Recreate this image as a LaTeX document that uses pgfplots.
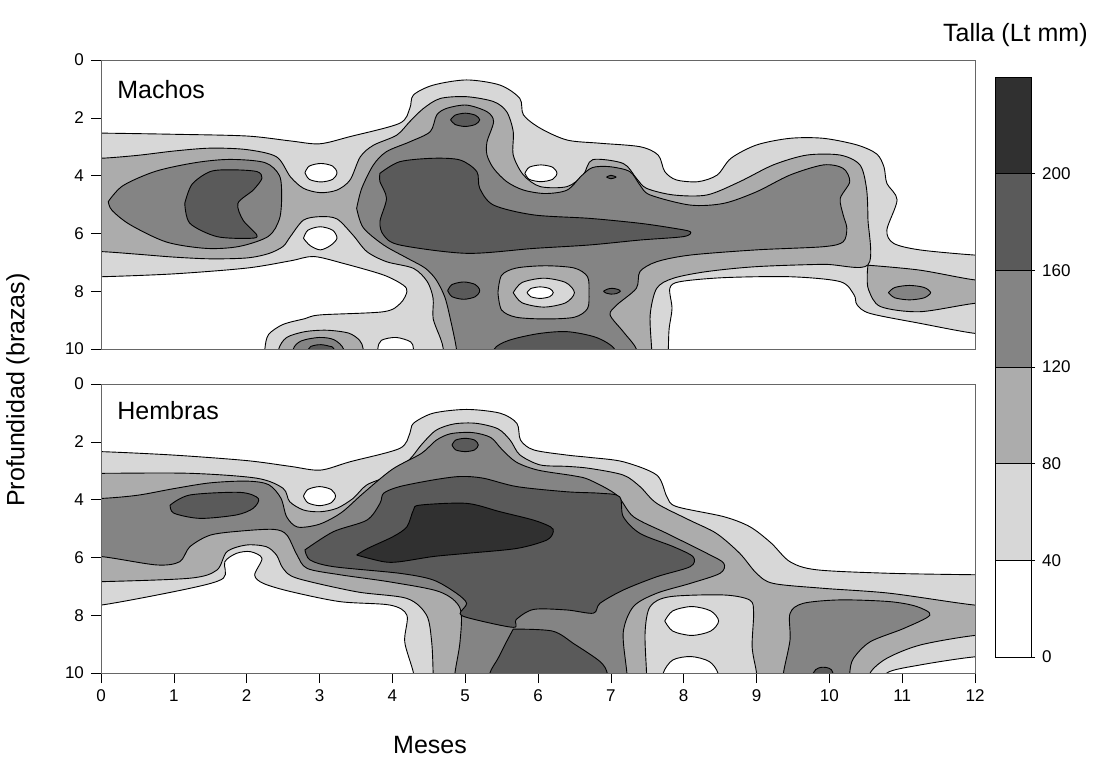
\documentclass[border=0pt]{standalone}
\usepackage{fontspec}
\setmainfont{Liberation Sans}
\usepackage{pgfplots}
\pgfplotsset{compat=1.18}
\newcommand\tickfont{\fontsize{8.5}{10}\selectfont}
\newcommand\labfont{\fontsize{12.5}{15}\selectfont}
\definecolor{lA}{RGB}{255,255,255}
\definecolor{lB}{RGB}{215,215,215}
\definecolor{lC}{RGB}{172,172,172}
\definecolor{lD}{RGB}{132,132,132}
\definecolor{lE}{RGB}{90,90,90}
\definecolor{lF}{RGB}{48,48,48}
\tikzset{lev/.style={draw=black, line width=0.45pt, tension=0.5}}
\pgfplotsset{
  colormap={talla}{color=(lA) color=(lB) color=(lC) color=(lD) color=(lE) color=(lF)},
  /pgf/number format/assume math mode=true,
  panel/.style={
    scale only axis, width=437pt, height=144.5pt,
    xmin=0, xmax=12, ymin=0, ymax=10,
    y dir=reverse,
    axis on top,
    ytick={0,2,...,10},
    xtick pos=left, ytick pos=left,
    tick align=outside,
    major tick length=5pt,
    tick label style={font=\tickfont},
    axis line style={black!60},
    tick style={black},
  },
}
\begin{document}
\begin{tikzpicture}
\useasboundingbox (0,0) rectangle (547.5pt,-379pt);
% ================= Machos =================
\begin{axis}[panel,
  at={(50.5pt,-174.5pt)}, anchor=south west,
  xtick=\empty,
  colormap name=talla, colormap access=piecewise constant,
  point meta min=0, point meta max=240,
  colorbar,
  colorbar style={
    at={(parent axis.north east)}, anchor=north west, xshift=1.5pt, yshift=-8.5pt,
    scale only axis, width=18pt, height=290pt,
    y dir=normal,
    ytick={0,40,...,200},
    ytick pos=right,
    yticklabel style={font=\tickfont},
    major tick length=2pt, tick align=outside,
    ymajorgrids, major grid style={black, line width=0.4pt},
    axis line style={black},
  },
]
% level 40-80
\addplot[lev, smooth, fill=lB] coordinates {(-0.5,2.53) (0,2.53) (1,2.57) (2,2.63) (2.6,2.8) (3,2.9) (3.42,2.65) (4.1,2.19) (4.24,1.67) (4.29,1.21) (4.56,0.87) (5.02,0.69) (5.48,0.87) (5.75,1.33) (5.8,1.9) (6.03,2.36) (6.4,2.77) (6.85,2.88) (7.4,3.0) (7.65,3.29) (7.74,3.86) (7.9,4.15) (8.2,4.21) (8.46,3.98) (8.65,3.4) (9.0,2.94) (9.46,2.71) (9.92,2.71) (10.38,2.94) (10.65,3.25) (10.75,3.7) (10.79,4.27) (10.93,4.84) (10.79,5.88) (10.88,6.34) (11.24,6.57) (12,6.75) (12.5,6.78) (12.5,9.5) (12,9.46) (11.24,9.11) (10.56,8.77) (10.38,8.47) (10.34,8.13) (10.15,7.67) (9.47,7.5) (8.56,7.53) (7.95,7.67) (7.81,7.9) (7.84,8.6) (7.8,9.3) (7.79,10) (7.79,10.6) (4.29,10.6) (4.29,10) (4.25,9.75) (4.05,9.6) (3.85,9.7) (3.8,10) (3.8,10.6) (2.25,10.6) (2.25,10) (2.3,9.5) (2.5,9.15) (2.8,8.95) (3.01,8.82) (3.88,8.71) (4.11,8.42) (4.2,8.02) (4.15,7.79) (3.88,7.44) (3.33,7.04) (2.92,6.8) (2.6,6.95) (2.0,7.2) (1.0,7.4) (0,7.5) (-0.5,7.5)};
% level 80-120
\addplot[lev, smooth, fill=lC] coordinates {(-0.5,3.4) (0,3.4) (0.5,3.3) (1,3.15) (1.5,3.05) (2,3.1) (2.41,3.35) (2.6,4.04) (2.78,4.44) (3.01,4.59) (3.24,4.5) (3.42,4.15) (3.56,3.35) (3.74,2.95) (4.06,2.6) (4.24,2.13) (4.43,1.67) (4.66,1.33) (5.02,1.27) (5.39,1.44) (5.57,1.79) (5.66,2.48) (5.66,3.29) (5.8,3.98) (6.03,4.38) (6.4,4.38) (6.62,3.98) (6.75,3.45) (7.17,3.58) (7.35,4.09) (7.49,4.44) (7.86,4.67) (8.32,4.67) (8.77,4.21) (9.23,3.63) (9.69,3.29) (10.15,3.29) (10.42,3.63) (10.51,4.44) (10.53,5.5) (10.53,7.09) (9.92,7.07) (9.0,7.15) (8.32,7.32) (7.86,7.55) (7.63,7.9) (7.54,8.82) (7.56,10) (7.56,10.6) (4.7,10.6) (4.7,10) (4.66,9.63) (4.56,8.94) (4.56,8.25) (4.48,7.67) (4.29,7.21) (3.92,6.98) (3.65,6.63) (3.46,6.06) (3.24,5.5) (3.01,5.42) (2.78,5.54) (2.6,6.11) (2.5,6.45) (2.3,6.7) (2,6.85) (1.5,6.88) (1,6.82) (0.5,6.72) (0,6.63) (-0.5,6.63)};
\addplot[lev, smooth, fill=lC] coordinates {(2.44,10.6) (2.44,10) (2.55,9.6) (2.8,9.4) (3.1,9.35) (3.4,9.45) (3.55,9.7) (3.6,10) (3.6,10.6)};
\addplot[lev, smooth, fill=lC] coordinates {(10.53,7.1) (11.24,7.27) (12,7.61) (12.5,7.65) (12.5,8.4) (12,8.42) (11.24,8.71) (10.7,8.53) (10.54,7.96) (10.52,7.5) (10.53,7.1)};
% level 120-160
\addplot[lev, smooth, fill=lD] coordinates {(0.1,4.9) (0.3,4.35) (0.75,3.85) (1.3,3.55) (1.77,3.44) (2.25,3.55) (2.45,4.0) (2.48,4.73) (2.45,5.5) (2.3,6.1) (1.9,6.45) (1.45,6.52) (0.9,6.3) (0.4,5.7) (0.15,5.2) (0.1,4.9)};
\addplot[lev, smooth, fill=lD] coordinates {(3.51,5.13) (3.58,4.44) (3.74,3.63) (3.92,3.17) (4.24,2.83) (4.52,2.48) (4.61,1.9) (4.75,1.67) (5.02,1.56) (5.3,1.79) (5.39,2.13) (5.3,2.83) (5.3,3.29) (5.39,3.75) (5.57,4.21) (5.8,4.5) (6.1,4.62) (6.4,4.5) (6.6,4.0) (6.75,3.72) (6.98,3.69) (7.26,3.86) (7.4,4.33) (7.54,4.67) (8.09,5.02) (8.55,4.96) (9.0,4.56) (9.46,3.98) (9.92,3.63) (10.19,3.75) (10.28,4.21) (10.15,4.79) (10.19,5.36) (10.24,5.82) (10.19,6.29) (9.92,6.46) (9.0,6.57) (8.09,6.75) (7.63,6.98) (7.4,7.32) (7.35,7.9) (7.08,8.48) (6.99,8.82) (7.17,9.4) (7.35,10) (7.35,10.6) (4.88,10.6) (4.88,10) (4.8,9.0) (4.72,8.2) (4.6,7.6) (4.45,7.2) (4.2,6.85) (3.88,6.4) (3.6,5.8) (3.51,5.13)};
\addplot[lev, smooth, fill=lD] coordinates {(2.64,10.6) (2.64,10) (2.75,9.72) (3.0,9.6) (3.2,9.68) (3.33,10) (3.33,10.6)};
\addplot[lev, smooth, fill=lD] coordinates {(10.81,8.05) (10.9,7.87) (11.1,7.8) (11.3,7.87) (11.39,8.05) (11.3,8.23) (11.1,8.3) (10.9,8.23) (10.81,8.05)};
% level 160-200
\addplot[lev, smooth, fill=lE] coordinates {(1.15,4.96) (1.25,4.3) (1.5,3.86) (1.8,3.8) (2.14,3.86) (2.21,4.09) (2.09,4.5) (1.88,4.96) (1.95,5.54) (2.14,6.06) (2.05,6.17) (1.59,6.11) (1.22,5.65) (1.15,4.96)};
\addplot[lev, smooth, fill=lE] coordinates {(3.83,3.92) (4.1,3.52) (4.56,3.4) (4.93,3.46) (5.16,3.86) (5.2,4.44) (5.39,5.02) (5.94,5.36) (6.71,5.48) (7.4,5.65) (7.86,5.82) (8.09,5.94) (8.0,6.11) (7.4,6.23) (6.71,6.4) (5.94,6.52) (5.02,6.69) (4.1,6.4) (3.88,6.06) (3.83,5.59) (3.92,4.79) (3.83,4.21) (3.83,3.92)};
\addplot[lev, smooth, fill=lE] coordinates {(4.8,2.07) (4.86,1.91) (5.0,1.84) (5.14,1.91) (5.2,2.07) (5.14,2.23) (5.0,2.3) (4.86,2.23) (4.8,2.07)};
\addplot[lev, smooth, fill=lE] coordinates {(4.76,7.98) (4.82,7.77) (4.98,7.68) (5.14,7.77) (5.2,7.98) (5.14,8.19) (4.98,8.28) (4.82,8.19) (4.76,7.98)};
\addplot[lev, smooth, fill=lE] coordinates {(5.4,10.6) (5.4,10) (5.6,9.7) (6.0,9.47) (6.4,9.4) (6.8,9.6) (7.05,10) (7.05,10.6)};
\addplot[lev, smooth, fill=lE] coordinates {(2.85,10.6) (2.85,10) (2.92,9.88) (3.02,9.85) (3.13,9.9) (3.2,10) (3.2,10.6)};
\addplot[lev, smooth, fill=lE] coordinates {(6.9,8.0) (6.95,7.93) (7.02,7.9) (7.1,7.94) (7.13,8.0) (7.08,8.08) (7.0,8.1) (6.93,8.06) (6.9,8.0)};
\addplot[lev, smooth, fill=lE] coordinates {(6.94,4.05) (7.0,3.99) (7.07,4.05) (7.0,4.11) (6.94,4.05)};
% ring at (6,8) and holes
\addplot[lev, smooth, fill=lC] coordinates {(5.45,8.05) (5.5,7.45) (5.7,7.2) (6.1,7.12) (6.5,7.2) (6.68,7.5) (6.7,8.05) (6.68,8.6) (6.5,8.9) (6.1,8.96) (5.7,8.9) (5.5,8.65) (5.45,8.05)};
\addplot[lev, smooth, fill=lB] coordinates {(5.66,8.05) (5.78,7.7) (6.08,7.55) (6.38,7.7) (6.5,8.05) (6.38,8.4) (6.08,8.55) (5.78,8.4) (5.66,8.05)};
\addplot[lev, smooth, fill=lA] coordinates {(5.85,8.05) (5.9,7.91) (6.03,7.85) (6.16,7.91) (6.21,8.05) (6.16,8.19) (6.03,8.25) (5.9,8.19) (5.85,8.05)};
\addplot[lev, smooth, fill=lA] coordinates {(2.8,3.9) (2.86,3.67) (3.02,3.58) (3.18,3.67) (3.24,3.9) (3.18,4.13) (3.02,4.22) (2.86,4.13) (2.8,3.9)};
\addplot[lev, smooth, fill=lA] coordinates {(2.78,6.17) (2.84,5.89) (3.01,5.77) (3.18,5.89) (3.24,6.17) (3.15,6.42) (3.01,6.57) (2.87,6.42) (2.78,6.17)};
\addplot[lev, smooth, fill=lA] coordinates {(5.82,3.92) (5.88,3.71) (6.04,3.63) (6.2,3.71) (6.26,3.92) (6.2,4.13) (6.04,4.21) (5.88,4.13) (5.82,3.92)};
\end{axis}
% ================= Hembras =================
\begin{axis}[panel,
  at={(50.5pt,-336.5pt)}, anchor=south west,
  xtick={0,1,...,12},
]
% level 40-80
\addplot[lev, smooth, fill=lB] coordinates {(-0.5,2.34) (0,2.34) (1,2.46) (2,2.65) (2.6,2.85) (3.01,2.98) (3.42,2.69) (4.1,2.23) (4.24,1.71) (4.29,1.36) (4.56,1.01) (5.02,0.88) (5.48,1.01) (5.71,1.36) (5.76,1.94) (5.94,2.28) (6.4,2.46) (6.71,2.54) (7.17,2.69) (7.63,3.15) (7.77,3.9) (7.9,4.24) (8.55,4.59) (8.91,4.94) (9.2,5.5) (9.46,6.15) (9.83,6.43) (10.83,6.55) (12,6.6) (12.5,6.6) (12.5,9.44) (12,9.44) (11.25,9.72) (10.79,10) (10.79,10.6) (8.47,10.6) (8.47,10) (8.35,9.6) (8.1,9.43) (7.85,9.55) (7.72,10) (7.72,10.6) (4.29,10.6) (4.29,10) (4.17,8.92) (4.2,8.0) (3.97,7.65) (3.28,7.53) (2.6,7.18) (2.23,6.9) (2.11,6.61) (2.21,6.03) (2.05,5.8) (1.86,5.86) (1.7,6.15) (1.68,6.72) (1.22,7.07) (0,7.65) (-0.5,7.65)};
% level 80-120
\addplot[lev, smooth, fill=lC] coordinates {(-0.5,3.09) (0,3.09) (1.22,3.09) (2.14,3.26) (2.5,3.61) (2.59,4.07) (2.78,4.36) (3.01,4.42) (3.24,4.3) (3.46,3.96) (3.65,3.49) (3.97,3.15) (4.24,2.6) (4.4,2.1) (4.6,1.6) (4.85,1.38) (5.15,1.36) (5.45,1.55) (5.62,1.95) (5.75,2.45) (6.03,2.8) (6.4,2.85) (6.71,2.92) (7.17,3.15) (7.4,3.55) (7.63,4.13) (8.08,4.71) (8.45,5.17) (8.77,5.86) (9.0,6.55) (9.23,6.9) (9.92,7.07) (10.83,7.24) (12,7.65) (12.5,7.65) (12.5,8.7) (12,8.7) (11.25,9.03) (10.79,9.49) (10.56,10) (10.56,10.6) (9.0,10.6) (9.0,10) (8.94,9.1) (8.96,7.94) (8.91,7.48) (8.55,7.3) (7.81,7.36) (7.54,7.7) (7.47,8.6) (7.49,10) (7.49,10.6) (4.56,10.6) (4.56,10) (4.54,8.92) (4.47,8.0) (4.2,7.42) (3.51,7.19) (2.69,6.72) (2.5,6.38) (2.41,5.92) (2.27,5.63) (2.0,5.57) (1.73,5.8) (1.59,6.44) (1.22,6.72) (0,6.84) (-0.5,6.84)};
% level 120-160
\addplot[lev, smooth, fill=lD] coordinates {(-0.5,3.96) (0,3.96) (0.5,3.85) (1,3.62) (1.5,3.42) (2.0,3.36) (2.3,3.48) (2.47,3.95) (2.55,4.6) (2.7,4.95) (3.0,4.85) (3.3,4.45) (3.6,3.78) (4.0,2.95) (4.4,2.4) (4.6,1.95) (4.8,1.72) (5.1,1.68) (5.35,1.85) (5.5,2.25) (5.7,2.7) (6.0,2.98) (6.5,3.18) (6.71,3.32) (7.08,3.84) (7.31,4.59) (7.77,5.17) (8.32,5.86) (8.55,6.2) (8.5,6.55) (8.09,6.9) (7.63,7.24) (7.31,7.7) (7.17,8.6) (7.22,10) (7.22,10.6) (4.86,10.6) (4.86,10) (4.93,8.9) (4.93,7.76) (4.65,7.19) (3.97,6.85) (3.28,6.6) (2.83,6.38) (2.69,5.91) (2.55,5.22) (2.37,5.03) (1.91,5.09) (1.5,5.23) (1.22,5.63) (1.08,6.15) (0.76,6.26) (0,5.97) (-0.5,5.97)};
\addplot[lev, smooth, fill=lD] coordinates {(9.37,10.6) (9.37,10) (9.46,8.86) (9.46,7.94) (9.64,7.59) (10.15,7.47) (10.83,7.53) (11.2,7.7) (11.38,8.0) (11.02,8.46) (10.56,8.92) (10.33,9.5) (10.28,10) (10.28,10.6)};
% level 160-200
\addplot[lev, smooth, fill=lE] coordinates {(0.95,4.19) (1.22,3.84) (1.91,3.75) (2.16,3.96) (2.09,4.3) (1.86,4.53) (1.36,4.65) (1.0,4.47) (0.95,4.19)};
\addplot[lev, smooth, fill=lE] coordinates {(4.82,2.11) (4.87,1.94) (5.0,1.88) (5.13,1.94) (5.18,2.11) (5.13,2.28) (5.0,2.34) (4.87,2.28) (4.82,2.11)};
\addplot[lev, smooth, fill=lE] coordinates {(2.8,5.74) (3.19,5.11) (3.65,4.71) (3.83,4.13) (3.88,3.78) (4.1,3.55) (4.56,3.32) (4.93,3.2) (5.25,3.26) (5.71,3.55) (6.4,3.73) (6.85,3.78) (7.12,3.9) (7.17,4.59) (7.4,5.17) (7.86,5.63) (8.13,5.98) (8.09,6.32) (7.63,6.67) (7.17,7.13) (6.85,7.59) (6.76,7.93) (6.4,7.82) (5.94,7.8) (5.7,8.15) (5.66,8.42) (5.07,8.11) (4.93,7.94) (5.02,7.59) (4.88,7.24) (4.56,6.78) (4.1,6.55) (3.19,6.32) (2.87,6.09) (2.8,5.74)};
\addplot[lev, smooth, fill=lE] coordinates {(5.66,8.48) (6.2,8.55) (6.5,9.0) (6.85,9.6) (6.95,10) (6.95,10.6) (5.34,10.6) (5.34,10) (5.45,9.5) (5.55,9.0) (5.66,8.48)};
\addplot[lev, smooth, fill=lE] coordinates {(9.78,10.6) (9.78,10) (9.85,9.83) (9.92,9.8) (10.0,9.84) (10.05,10) (10.05,10.6)};
% level 200-240
\addplot[lev, smooth, fill=lF] coordinates {(3.51,5.92) (3.66,5.69) (4.01,5.28) (4.2,4.94) (4.29,4.36) (4.38,4.19) (5.02,4.13) (5.48,4.42) (5.94,4.71) (6.17,4.94) (6.21,5.11) (6.12,5.4) (5.71,5.69) (5.02,5.86) (4.56,5.97) (4.1,6.15) (3.88,6.15) (3.51,5.92)};
% holes
\addplot[lev, smooth, fill=lA] coordinates {(2.78,3.88) (2.84,3.65) (3.0,3.55) (3.16,3.65) (3.22,3.88) (3.16,4.11) (3.0,4.21) (2.84,4.11) (2.78,3.88)};
\addplot[lev, smooth, fill=lA] coordinates {(7.74,8.2) (7.85,7.85) (8.11,7.7) (8.37,7.85) (8.48,8.2) (8.37,8.55) (8.11,8.7) (7.85,8.55) (7.74,8.2)};
\end{axis}
\node[font=\labfont, anchor=west, inner sep=0pt] at (58.5pt,-45pt) {Machos};
\node[font=\labfont, anchor=west, inner sep=0pt] at (58.5pt,-205.5pt) {Hembras};
\node[font=\labfont, rotate=90, inner sep=0pt] at (9pt,-195pt) {Profundidad (brazas)};
\node[font=\labfont, inner sep=0pt] at (215pt,-372.5pt) {Meses};
\node[font=\labfont, anchor=east, inner sep=0pt] at (544pt,-17.5pt) {Talla (Lt mm)};
\end{tikzpicture}
\end{document}
